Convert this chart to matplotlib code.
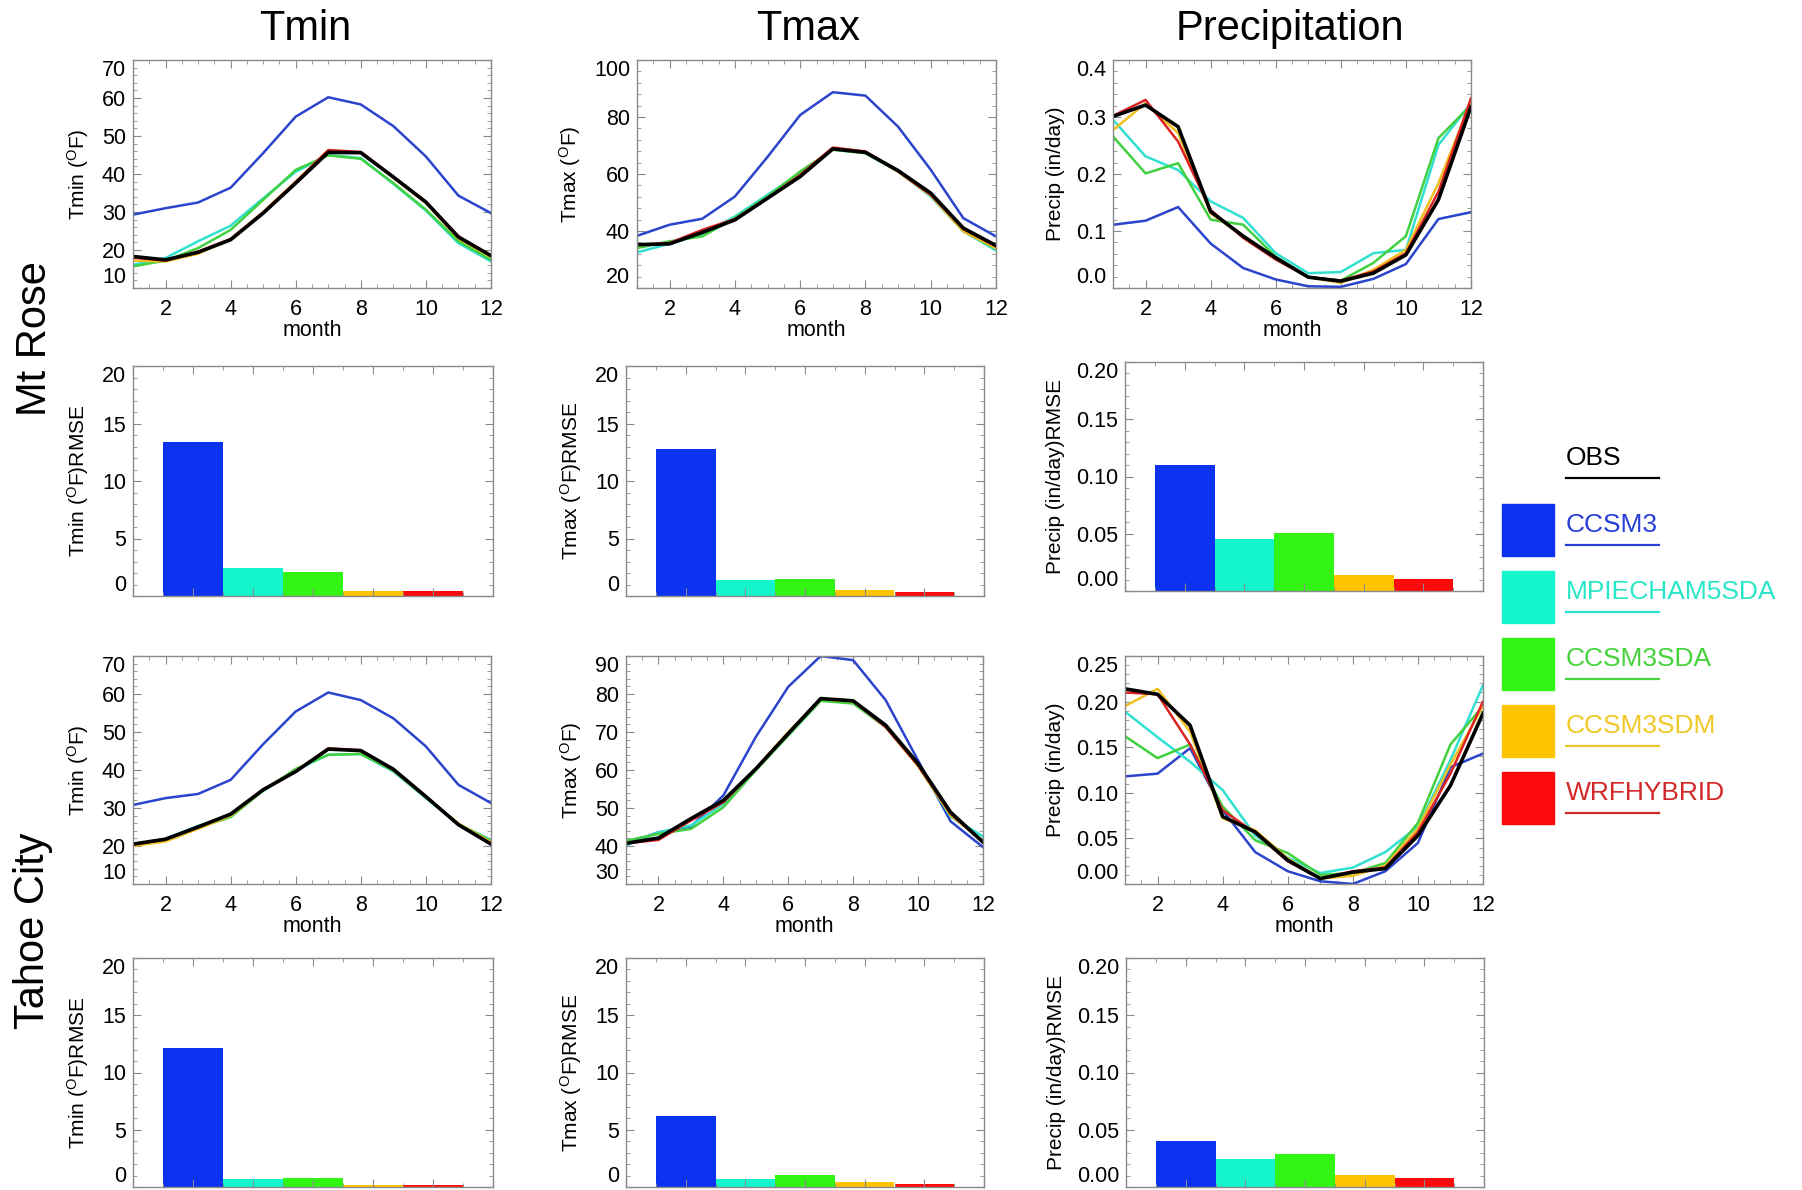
import numpy as np
import matplotlib
matplotlib.use('Agg')
import matplotlib.pyplot as plt
from matplotlib.ticker import MultipleLocator
from matplotlib.patches import Rectangle
from matplotlib.lines import Line2D

plt.rcParams['font.family'] = ['Liberation Sans', 'DejaVu Sans']
plt.rcParams['mathtext.fontset'] = 'custom'
plt.rcParams['mathtext.rm'] = 'Liberation Sans'
plt.rcParams['mathtext.default'] = 'regular'

# ---- data ----
MONTHS = list(range(1, 13))
MODELS = ['CCSM3', 'MPIECHAM5SDA', 'CCSM3SDA', 'CCSM3SDM', 'WRFHYBRID']

# Mt Rose monthly means
mr_tmin_obs = [18.3, 17.4, 19.4, 22.7, 29.7, 37.6, 45.7, 45.6, 39.2, 32.6, 23.4, 18.5]
mr_tmin_ccsm3 = [29.3, 31.0, 32.5, 36.4, 45.5, 55.1, 60.2, 58.3, 52.6, 44.6, 34.3, 29.7]
mr_tmin_mpi = [16.1, 17.9, 22.3, 26.4, 33.6, 40.6, 45.0, 44.2, 37.4, 30.4, 21.8, 17.0]
mr_tmin_sda = [15.7, 17.2, 20.5, 25.3, 33.2, 41.1, 44.9, 44.0, 37.6, 30.6, 22.3, 17.4]
mr_tmin_sdm = [17.2, 17.0, 19.0, 22.9, 30.0, 38.0, 46.2, 45.7, 39.0, 32.4, 23.0, 18.2]
mr_tmin_wrf = [18.0, 17.2, 19.6, 22.9, 29.9, 37.9, 46.3, 45.8, 39.3, 32.7, 23.6, 18.6]

mr_tmax_obs = [35.2, 35.5, 39.5, 43.9, 51.5, 59.1, 68.8, 67.6, 61.2, 53.3, 41.0, 34.9]
mr_tmax_ccsm3 = [38.3, 42.2, 44.3, 52.1, 66.0, 80.7, 88.7, 87.5, 76.6, 61.5, 44.5, 38.1]
mr_tmax_mpi = [32.5, 35.5, 39.0, 45.1, 52.7, 60.3, 68.7, 67.3, 60.9, 52.1, 39.9, 33.2]
mr_tmax_sda = [34.0, 36.4, 38.1, 44.5, 52.1, 60.9, 68.5, 67.3, 60.9, 52.7, 39.9, 33.8]
mr_tmax_sdm = [35.0, 35.6, 40.0, 44.0, 51.6, 59.5, 69.0, 67.8, 60.8, 52.5, 39.9, 34.0]
mr_tmax_wrf = [35.2, 35.8, 40.4, 44.2, 51.5, 59.7, 69.3, 67.9, 60.9, 52.7, 40.7, 34.6]

mr_pr_obs = [0.301, 0.321, 0.283, 0.134, 0.091, 0.053, 0.019, 0.012, 0.026, 0.058, 0.155, 0.318]
mr_pr_ccsm3 = [0.111, 0.118, 0.142, 0.078, 0.035, 0.015, 0.003, 0.002, 0.016, 0.042, 0.121, 0.133]
mr_pr_mpi = [0.295, 0.231, 0.207, 0.152, 0.123, 0.061, 0.026, 0.028, 0.061, 0.067, 0.251, 0.324]
mr_pr_sda = [0.266, 0.201, 0.219, 0.120, 0.111, 0.055, 0.019, 0.013, 0.044, 0.091, 0.263, 0.321]
mr_pr_sdm = [0.277, 0.324, 0.272, 0.131, 0.091, 0.053, 0.019, 0.009, 0.032, 0.067, 0.184, 0.327]
mr_pr_wrf = [0.302, 0.330, 0.257, 0.137, 0.088, 0.050, 0.019, 0.013, 0.029, 0.061, 0.169, 0.333]

# Tahoe City monthly means
tc_tmin_obs = [20.5, 21.8, 25.0, 28.4, 34.8, 39.6, 45.5, 45.1, 40.2, 33.0, 25.6, 20.5]
tc_tmin_ccsm3 = [30.8, 32.6, 33.7, 37.4, 46.8, 55.4, 60.4, 58.4, 53.6, 46.2, 36.1, 31.3]
tc_tmin_mpi = [20.3, 21.9, 25.3, 28.0, 34.5, 40.0, 44.0, 44.2, 39.6, 32.6, 25.7, 21.6]
tc_tmin_sda = [20.2, 21.6, 24.8, 27.6, 34.6, 40.3, 44.0, 44.2, 39.8, 32.8, 25.8, 21.4]
tc_tmin_sdm = [20.0, 21.2, 24.5, 28.0, 34.7, 39.8, 45.6, 45.0, 40.0, 32.9, 25.9, 21.0]
tc_tmin_wrf = [20.4, 21.7, 25.1, 28.3, 34.8, 39.6, 45.7, 45.2, 40.1, 33.0, 25.7, 20.6]

tc_tmax_obs = [40.7, 42.1, 47.2, 52.0, 60.3, 69.6, 78.8, 78.2, 71.8, 61.7, 48.9, 41.0]
tc_tmax_ccsm3 = [40.6, 43.6, 45.1, 53.3, 68.7, 81.9, 90.0, 88.9, 78.4, 62.5, 46.5, 39.7]
tc_tmax_mpi = [40.1, 43.6, 45.4, 51.1, 60.1, 69.1, 78.4, 77.7, 71.3, 61.2, 47.8, 42.5]
tc_tmax_sda = [41.4, 43.2, 44.5, 50.2, 59.9, 69.1, 78.2, 77.5, 71.3, 61.2, 48.0, 41.4]
tc_tmax_sdm = [40.8, 42.0, 46.8, 51.8, 60.4, 70.0, 78.7, 78.0, 71.5, 61.0, 48.2, 41.2]
tc_tmax_wrf = [40.7, 41.6, 46.7, 51.5, 60.3, 69.6, 78.8, 78.2, 71.3, 61.2, 48.5, 41.0]

tc_pr_obs = [0.214, 0.208, 0.174, 0.074, 0.057, 0.026, 0.006, 0.013, 0.017, 0.053, 0.108, 0.187]
tc_pr_ccsm3 = [0.118, 0.121, 0.149, 0.081, 0.035, 0.014, 0.003, 0.000, 0.014, 0.045, 0.128, 0.143]
tc_pr_mpi = [0.189, 0.161, 0.134, 0.103, 0.053, 0.029, 0.012, 0.018, 0.035, 0.063, 0.136, 0.218]
tc_pr_sda = [0.162, 0.138, 0.153, 0.085, 0.048, 0.034, 0.010, 0.012, 0.023, 0.067, 0.153, 0.195]
tc_pr_sdm = [0.195, 0.214, 0.167, 0.072, 0.059, 0.028, 0.006, 0.009, 0.020, 0.061, 0.131, 0.195]
tc_pr_wrf = [0.210, 0.208, 0.153, 0.081, 0.056, 0.025, 0.006, 0.014, 0.018, 0.057, 0.121, 0.200]

# RMSE per model (CCSM3, MPI, SDA, SDM, WRF)
mr_tmin_rmse = [13.4, 2.43, 2.09, 0.43, 0.43]
mr_tmax_rmse = [12.8, 1.36, 1.48, 0.49, 0.35]
mr_pr_rmse = [0.110, 0.0457, 0.051, 0.0143, 0.0105]
tc_tmin_rmse = [12.1, 0.67, 0.76, 0.20, 0.20]
tc_tmax_rmse = [6.23, 0.72, 1.01, 0.43, 0.23]
tc_pr_rmse = [0.0403, 0.0246, 0.029, 0.0107, 0.0081]

# ---- styles ----
LINE_COLORS = ['#2a44cc', '#30e0d0', '#40d040', '#f0c020', '#dd2222']
BAR_COLORS = ['#0a32f0', '#14f5cd', '#32f514', '#ffc400', '#fa0a0a']
TEXT_COLORS = ['#2840d8', '#28e6c8', '#46d23c', '#f0c828', '#d22828']
GRAY = '#8a8a8a'

W, H = 1802, 1190
fig = plt.figure(figsize=(W / 100, H / 100), dpi=100)


def px_axes(x0, x1, y0, y1):
    return fig.add_axes([x0 / W, 1 - y1 / H, (x1 - x0) / W, (y1 - y0) / H])


def style(ax):
    for s in ax.spines.values():
        s.set_color(GRAY)
        s.set_linewidth(1)
    ax.tick_params(which='both', direction='in', top=True, right=True,
                   color=GRAY, labelsize=15.5)
    ax.tick_params(which='major', length=6)
    ax.tick_params(which='minor', length=3)
    ax.tick_params(axis='y', pad=5)
    ax.tick_params(axis='x', pad=8)


def set_yaxis(ax, lo, hi, step, fmt, ylabel):
    ax.set_ylim(lo, hi)
    ticks = np.round(np.arange(lo, hi + step / 2, step), 4)
    ax.set_yticks(ticks, [fmt.format(t) for t in ticks])
    ax.yaxis.set_minor_locator(MultipleLocator(step / 5))
    ax.set_ylabel(ylabel, fontsize=15, labelpad=8)
    labels = ax.get_yticklabels()
    labels[0].set_va('bottom')
    labels[-1].set_va('top')


def line_panel(ax, series, obs, ylim, ystep, fmt, ylabel):
    for vals, c in zip(series, LINE_COLORS):
        ax.plot(MONTHS, vals, color=c, lw=1.8)
    ax.plot(MONTHS, obs, color='black', lw=2.6)
    style(ax)
    ax.set_xlim(1, 12)
    ax.set_xticks(range(2, 13, 2))
    ax.xaxis.set_minor_locator(MultipleLocator(0.5))
    ax.set_xlabel('month', fontsize=15.5, labelpad=0)
    set_yaxis(ax, ylim[0], ylim[1], ystep, fmt, ylabel)


def bar_panel(ax, rmse, ylim, ystep, fmt, ylabel):
    ax.bar(range(1, len(rmse) + 1), rmse, width=1.0, color=BAR_COLORS)
    style(ax)
    ax.set_xlim(0, 6)
    ax.set_xticks(range(0, 7))
    ax.xaxis.set_minor_locator(MultipleLocator(0.5))
    ax.tick_params(axis='x', labelbottom=False)
    set_yaxis(ax, ylim[0], ylim[1], ystep, fmt, ylabel)


TMIN_LBL = 'Tmin ($^{O}$F)'
TMAX_LBL = 'Tmax ($^{O}$F)'
PR_LBL = 'Precip (in/day)'

# Mt Rose
line_panel(px_axes(133, 491, 60, 288),
           [mr_tmin_ccsm3, mr_tmin_mpi, mr_tmin_sda, mr_tmin_sdm, mr_tmin_wrf],
           mr_tmin_obs, (10, 70), 10, '{:.0f}', TMIN_LBL)
line_panel(px_axes(637, 996, 60, 288),
           [mr_tmax_ccsm3, mr_tmax_mpi, mr_tmax_sda, mr_tmax_sdm, mr_tmax_wrf],
           mr_tmax_obs, (20, 100), 20, '{:.0f}', TMAX_LBL)
line_panel(px_axes(1113, 1471, 60, 288),
           [mr_pr_ccsm3, mr_pr_mpi, mr_pr_sda, mr_pr_sdm, mr_pr_wrf],
           mr_pr_obs, (0, 0.4), 0.1, '{:.1f}', PR_LBL)
bar_panel(px_axes(133, 493, 366, 596), mr_tmin_rmse, (0, 20), 5, '{:.0f}', TMIN_LBL + 'RMSE')
bar_panel(px_axes(626, 984, 366, 596), mr_tmax_rmse, (0, 20), 5, '{:.0f}', TMAX_LBL + 'RMSE')
bar_panel(px_axes(1125, 1483, 362, 591), mr_pr_rmse, (0, 0.2), 0.05, '{:.2f}', PR_LBL + 'RMSE')

# Tahoe City
line_panel(px_axes(133, 491, 656, 884),
           [tc_tmin_ccsm3, tc_tmin_mpi, tc_tmin_sda, tc_tmin_sdm, tc_tmin_wrf],
           tc_tmin_obs, (10, 70), 10, '{:.0f}', TMIN_LBL)
line_panel(px_axes(626, 983, 656, 884),
           [tc_tmax_ccsm3, tc_tmax_mpi, tc_tmax_sda, tc_tmax_sdm, tc_tmax_wrf],
           tc_tmax_obs, (30, 90), 10, '{:.0f}', TMAX_LBL)
line_panel(px_axes(1125, 1483, 656, 884),
           [tc_pr_ccsm3, tc_pr_mpi, tc_pr_sda, tc_pr_sdm, tc_pr_wrf],
           tc_pr_obs, (0, 0.25), 0.05, '{:.2f}', PR_LBL)
bar_panel(px_axes(133, 493, 958, 1187), tc_tmin_rmse, (0, 20), 5, '{:.0f}', TMIN_LBL + 'RMSE')
bar_panel(px_axes(626, 984, 958, 1187), tc_tmax_rmse, (0, 20), 5, '{:.0f}', TMAX_LBL + 'RMSE')
bar_panel(px_axes(1126, 1484, 958, 1187), tc_pr_rmse, (0, 0.2), 0.05, '{:.2f}', PR_LBL + 'RMSE')

# column titles and row labels
for label, x in [('Tmin', 305), ('Tmax', 808), ('Precipitation', 1290)]:
    fig.text(x / W, 1 - 29 / H, label, ha='center', va='center', fontsize=30)
fig.text(35 / W, 1 - 339 / H, 'Mt Rose', ha='center', va='center', rotation=90, fontsize=30)
fig.text(33 / W, 1 - 931 / H, 'Tahoe City', ha='center', va='center', rotation=90, fontsize=30)

# legend
box_x, box_s, first_top, step = 1502, 52, 504, 67
txt_x, ul_len = 1566, 93
entries = [('OBS', None, 'black')] + list(zip(MODELS, BAR_COLORS, TEXT_COLORS))
for i, (name, box_c, txt_c) in enumerate(entries):
    top = first_top + (i - 1) * step
    cy = top + box_s / 2
    if box_c is not None:
        fig.patches.append(Rectangle((box_x / W, 1 - (top + box_s) / H), box_s / W, box_s / H,
                                     transform=fig.transFigure, color=box_c))
    fig.text(txt_x / W, 1 - (cy - 5) / H, name, ha='left', va='center', fontsize=19, color=txt_c)
    fig.lines.append(Line2D([txt_x / W, (txt_x + ul_len) / W], [1 - (cy + 15) / H] * 2,
                            transform=fig.transFigure, color=txt_c, lw=1.6))

fig.savefig('out.png', dpi=100)
